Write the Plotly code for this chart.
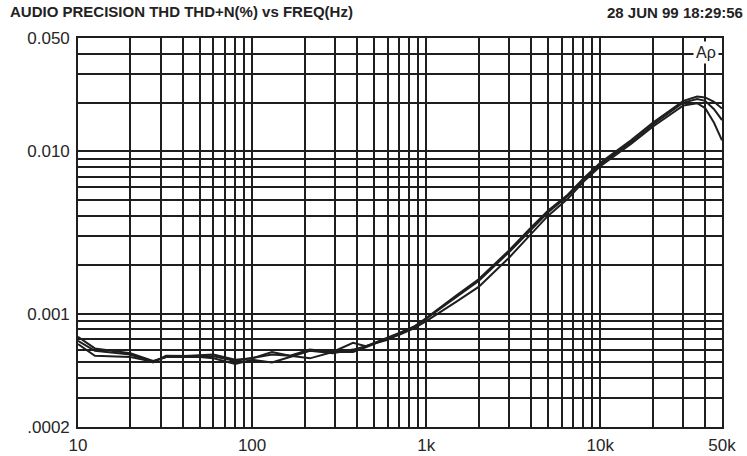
import plotly.graph_objects as go

# ── Data ──────────────────────────────────────────────────────────────────────

FREQ_HZ = [10, 12.5, 20, 27, 32, 50, 60, 80, 100, 130, 165, 215, 290, 380, 450, 520,
           600, 700, 850, 1000, 1500, 2000, 3000, 4000, 5000, 6500, 8000, 10000,
           15000, 20000, 25000, 30000, 36000, 40000, 45000, 50000]

THD_A = [0.00072, 0.00061, 0.00057, 0.00051, 0.00054, 0.000555, 0.00056, 0.00052, 0.00053,
         0.00058, 0.00055, 0.00053, 0.00058, 0.00066, 0.00063, 0.00067, 0.00071, 0.00076,
         0.00083, 0.00094, 0.00130, 0.00163, 0.00246, 0.0034, 0.0043, 0.0054, 0.0068, 0.0085,
         0.0117, 0.0150, 0.0178, 0.0205, 0.0218, 0.0215, 0.0202, 0.0184]

THD_B = [0.00068, 0.00059, 0.00056, 0.00050, 0.00055, 0.00055, 0.000545, 0.00051, 0.00053,
         0.00056, 0.00055, 0.00060, 0.00058, 0.00058, 0.00062, 0.00066, 0.00069, 0.00075,
         0.00083, 0.00093, 0.00128, 0.00159, 0.00240, 0.0033, 0.0042, 0.0053, 0.0067, 0.0083,
         0.0114, 0.0146, 0.0174, 0.0200, 0.0210, 0.0205, 0.0182, 0.0156]

THD_C = [0.00065, 0.00055, 0.00054, 0.000505, 0.00054, 0.00054, 0.00053, 0.00049, 0.00052,
         0.00050, 0.00054, 0.00059, 0.00057, 0.00060, 0.00063, 0.00066, 0.00070, 0.00074,
         0.00081, 0.00090, 0.00119, 0.00146, 0.00222, 0.0031, 0.0040, 0.0051, 0.0065, 0.0081,
         0.0111, 0.0142, 0.0168, 0.0192, 0.0198, 0.0185, 0.0150, 0.0117]

# grid lines (every 1..9 multiple) and the few labelled ones
X_GRID = [10, 20, 30, 40, 50, 60, 70, 80, 90,
          100, 200, 300, 400, 500, 600, 700, 800, 900,
          1000, 2000, 3000, 4000, 5000, 6000, 7000, 8000, 9000,
          10000, 20000, 30000, 40000, 50000]
X_LABELS = {10: "10", 100: "100", 1000: "1k", 10000: "10k", 50000: "50k"}

Y_GRID = [0.0002, 0.0003, 0.0004, 0.0005, 0.0006, 0.0007, 0.0008, 0.0009,
          0.001, 0.002, 0.003, 0.004, 0.005, 0.006, 0.007, 0.008, 0.009,
          0.01, 0.02, 0.03, 0.04, 0.05]
Y_LABELS = {0.0002: ".0002", 0.001: "0.001", 0.01: "0.010", 0.05: "0.050"}

TITLE_LEFT = "AUDIO PRECISION THD THD+N(%) vs FREQ(Hz)"
TITLE_RIGHT = "28 JUN 99 18:29:56"

INK = "#1e1e1e"
FONT = "Liberation Sans, Arial, sans-serif"

# ── Figure ────────────────────────────────────────────────────────────────────

fig = go.Figure()
for ys in (THD_A, THD_B, THD_C):
    fig.add_trace(go.Scatter(x=FREQ_HZ, y=ys, mode="lines",
                             line=dict(color=INK, width=2), showlegend=False))

axis_common = dict(type="log", showgrid=True, gridcolor=INK, gridwidth=1.6,
                   showline=True, linecolor=INK, linewidth=1.6, mirror=True,
                   ticks="", zeroline=False, automargin=False,
                   tickfont=dict(size=17, color="#262626", family=FONT))

fig.update_xaxes(range=[1, 4.69897], tickvals=X_GRID,
                 ticktext=[X_LABELS.get(v, "") for v in X_GRID],
                 ticklabelstandoff=2, **axis_common)
fig.update_yaxes(range=[-3.69897, -1.30103], tickvals=Y_GRID,
                 ticktext=[Y_LABELS.get(v, "") for v in Y_GRID],
                 ticklabelstandoff=3, **axis_common)

fig.update_layout(
    width=747, height=456,
    margin=dict(l=78, r=25, t=38, b=29),
    paper_bgcolor="white", plot_bgcolor="white",
    font=dict(family=FONT, color="#222"),
    title=dict(text=f"<b>{TITLE_LEFT}</b>", x=10 / 747, xanchor="left",
               y=1 - 12 / 456, yanchor="middle", font=dict(size=15, color="#222")),
)

fig.add_annotation(text=f"<b>{TITLE_RIGHT}</b>", xref="paper", yref="paper",
                   x=1 + 23 / 644, y=1 + 26 / 389, xanchor="right", yanchor="middle",
                   showarrow=False, font=dict(size=15, color="#222"))

fig.add_annotation(text="Aρ", xref="paper", yref="paper", x=1, y=1,
                   xanchor="right", yanchor="top", xshift=-3, yshift=-3,
                   showarrow=False, bgcolor="white", borderpad=2,
                   font=dict(size=16, color="#222", family=FONT))

# drop the browser's default body margin so the figure sits at the page corner
fig.write_html("out.html", config={"displayModeBar": False},
               post_script="document.body.style.margin='0';")
